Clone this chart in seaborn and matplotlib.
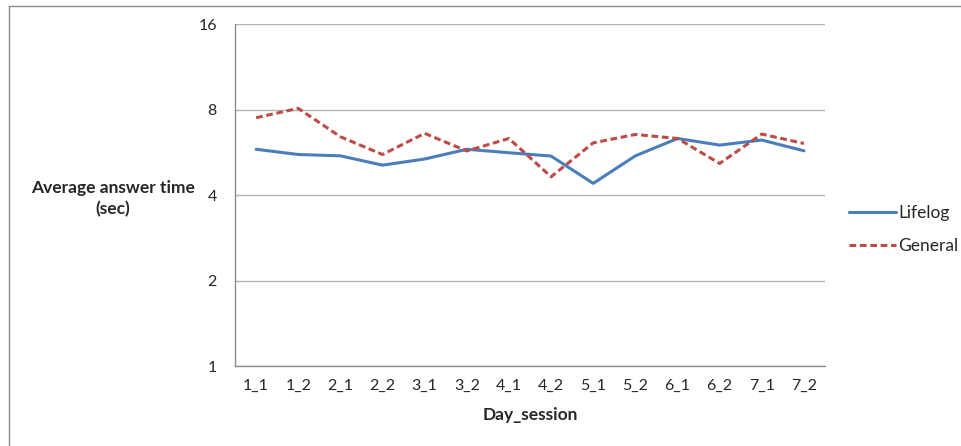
import pandas as pd
import matplotlib.pyplot as plt
import seaborn as sns
from matplotlib.lines import Line2D

sessions = ["1_1", "1_2", "2_1", "2_2", "3_1", "3_2", "4_1",
            "4_2", "5_1", "5_2", "6_1", "6_2", "7_1", "7_2"]
lifelog = [5.80, 5.56, 5.50, 5.10, 5.36, 5.80, 5.64,
           5.49, 4.40, 5.50, 6.33, 6.00, 6.25, 5.73]
general = [7.49, 8.08, 6.42, 5.56, 6.60, 5.72, 6.33,
           4.64, 6.11, 6.54, 6.33, 5.17, 6.56, 6.08]
y_ticks = [1, 2, 4, 8, 16]

df = pd.DataFrame({"Day_session": sessions * 2,
                   "time": lifelog + general,
                   "series": ["Lifelog"] * len(sessions) + ["General"] * len(sessions)})

sns.set_style("white")
plt.rcParams["font.family"] = ["Lato", "DejaVu Sans"]

fig = plt.figure(figsize=(9.62, 4.46), dpi=100)
ax = fig.add_axes([0.2443, 0.179, 0.6133, 0.767])
# outer chart border (only left and top edges are visible in the original)
fig.add_artist(Line2D([0.009, 0.009], [0.0, 0.987], transform=fig.transFigure,
                      color="#8c8c8c", linewidth=1.0))
fig.add_artist(Line2D([0.009, 1.0], [0.987, 0.987], transform=fig.transFigure,
                      color="#8c8c8c", linewidth=1.0))

sns.lineplot(data=df, x="Day_session", y="time", hue="series", style="series",
             palette={"Lifelog": "#4A7EBB", "General": "#BE4B48"},
             dashes={"Lifelog": "", "General": (2.2, 1.2)},
             linewidth=2.2, ax=ax, sort=False)

ax.set_yscale("log", base=2)
ax.set_ylim(1, 16)
ax.set_yticks(y_ticks)
ax.set_yticklabels([str(t) for t in y_ticks], fontsize=11.5)
ax.minorticks_off()
ax.set_xlim(-0.5, len(sessions) - 0.5)
ax.set_xticks(range(len(sessions)))
ax.set_xticklabels(sessions, fontsize=11.5)
ax.set_xticks([i - 0.5 for i in range(len(sessions) + 1)], minor=True)
ax.tick_params(axis="x", which="major", length=0, pad=9)
ax.tick_params(axis="x", which="minor", length=5, color="#8c8c8c", width=0.8)
ax.tick_params(axis="y", which="major", length=5, color="#8c8c8c", width=0.8, pad=8)

ax.grid(axis="y", color="#b3b3b3", linewidth=1.0)
for s in ["top", "right"]:
    ax.spines[s].set_visible(False)
for s in ["left", "bottom"]:
    ax.spines[s].set_color("#8c8c8c")
    ax.spines[s].set_linewidth(1.0)

ax.set_xlabel("Day_session", fontsize=12.5, fontweight="bold", labelpad=10)
ax.set_ylabel("")
fig.text(0.117, 0.555, "Average answer time\n(sec)", ha="center", va="center",
         fontsize=12.5, fontweight="bold", linespacing=1.4)

ax.legend(frameon=False, loc="center left", bbox_to_anchor=(1.015, 0.40),
          fontsize=12.5, handlelength=2.7, handletextpad=0.1, labelspacing=1.0)

fig.savefig("out.png", dpi=100)
